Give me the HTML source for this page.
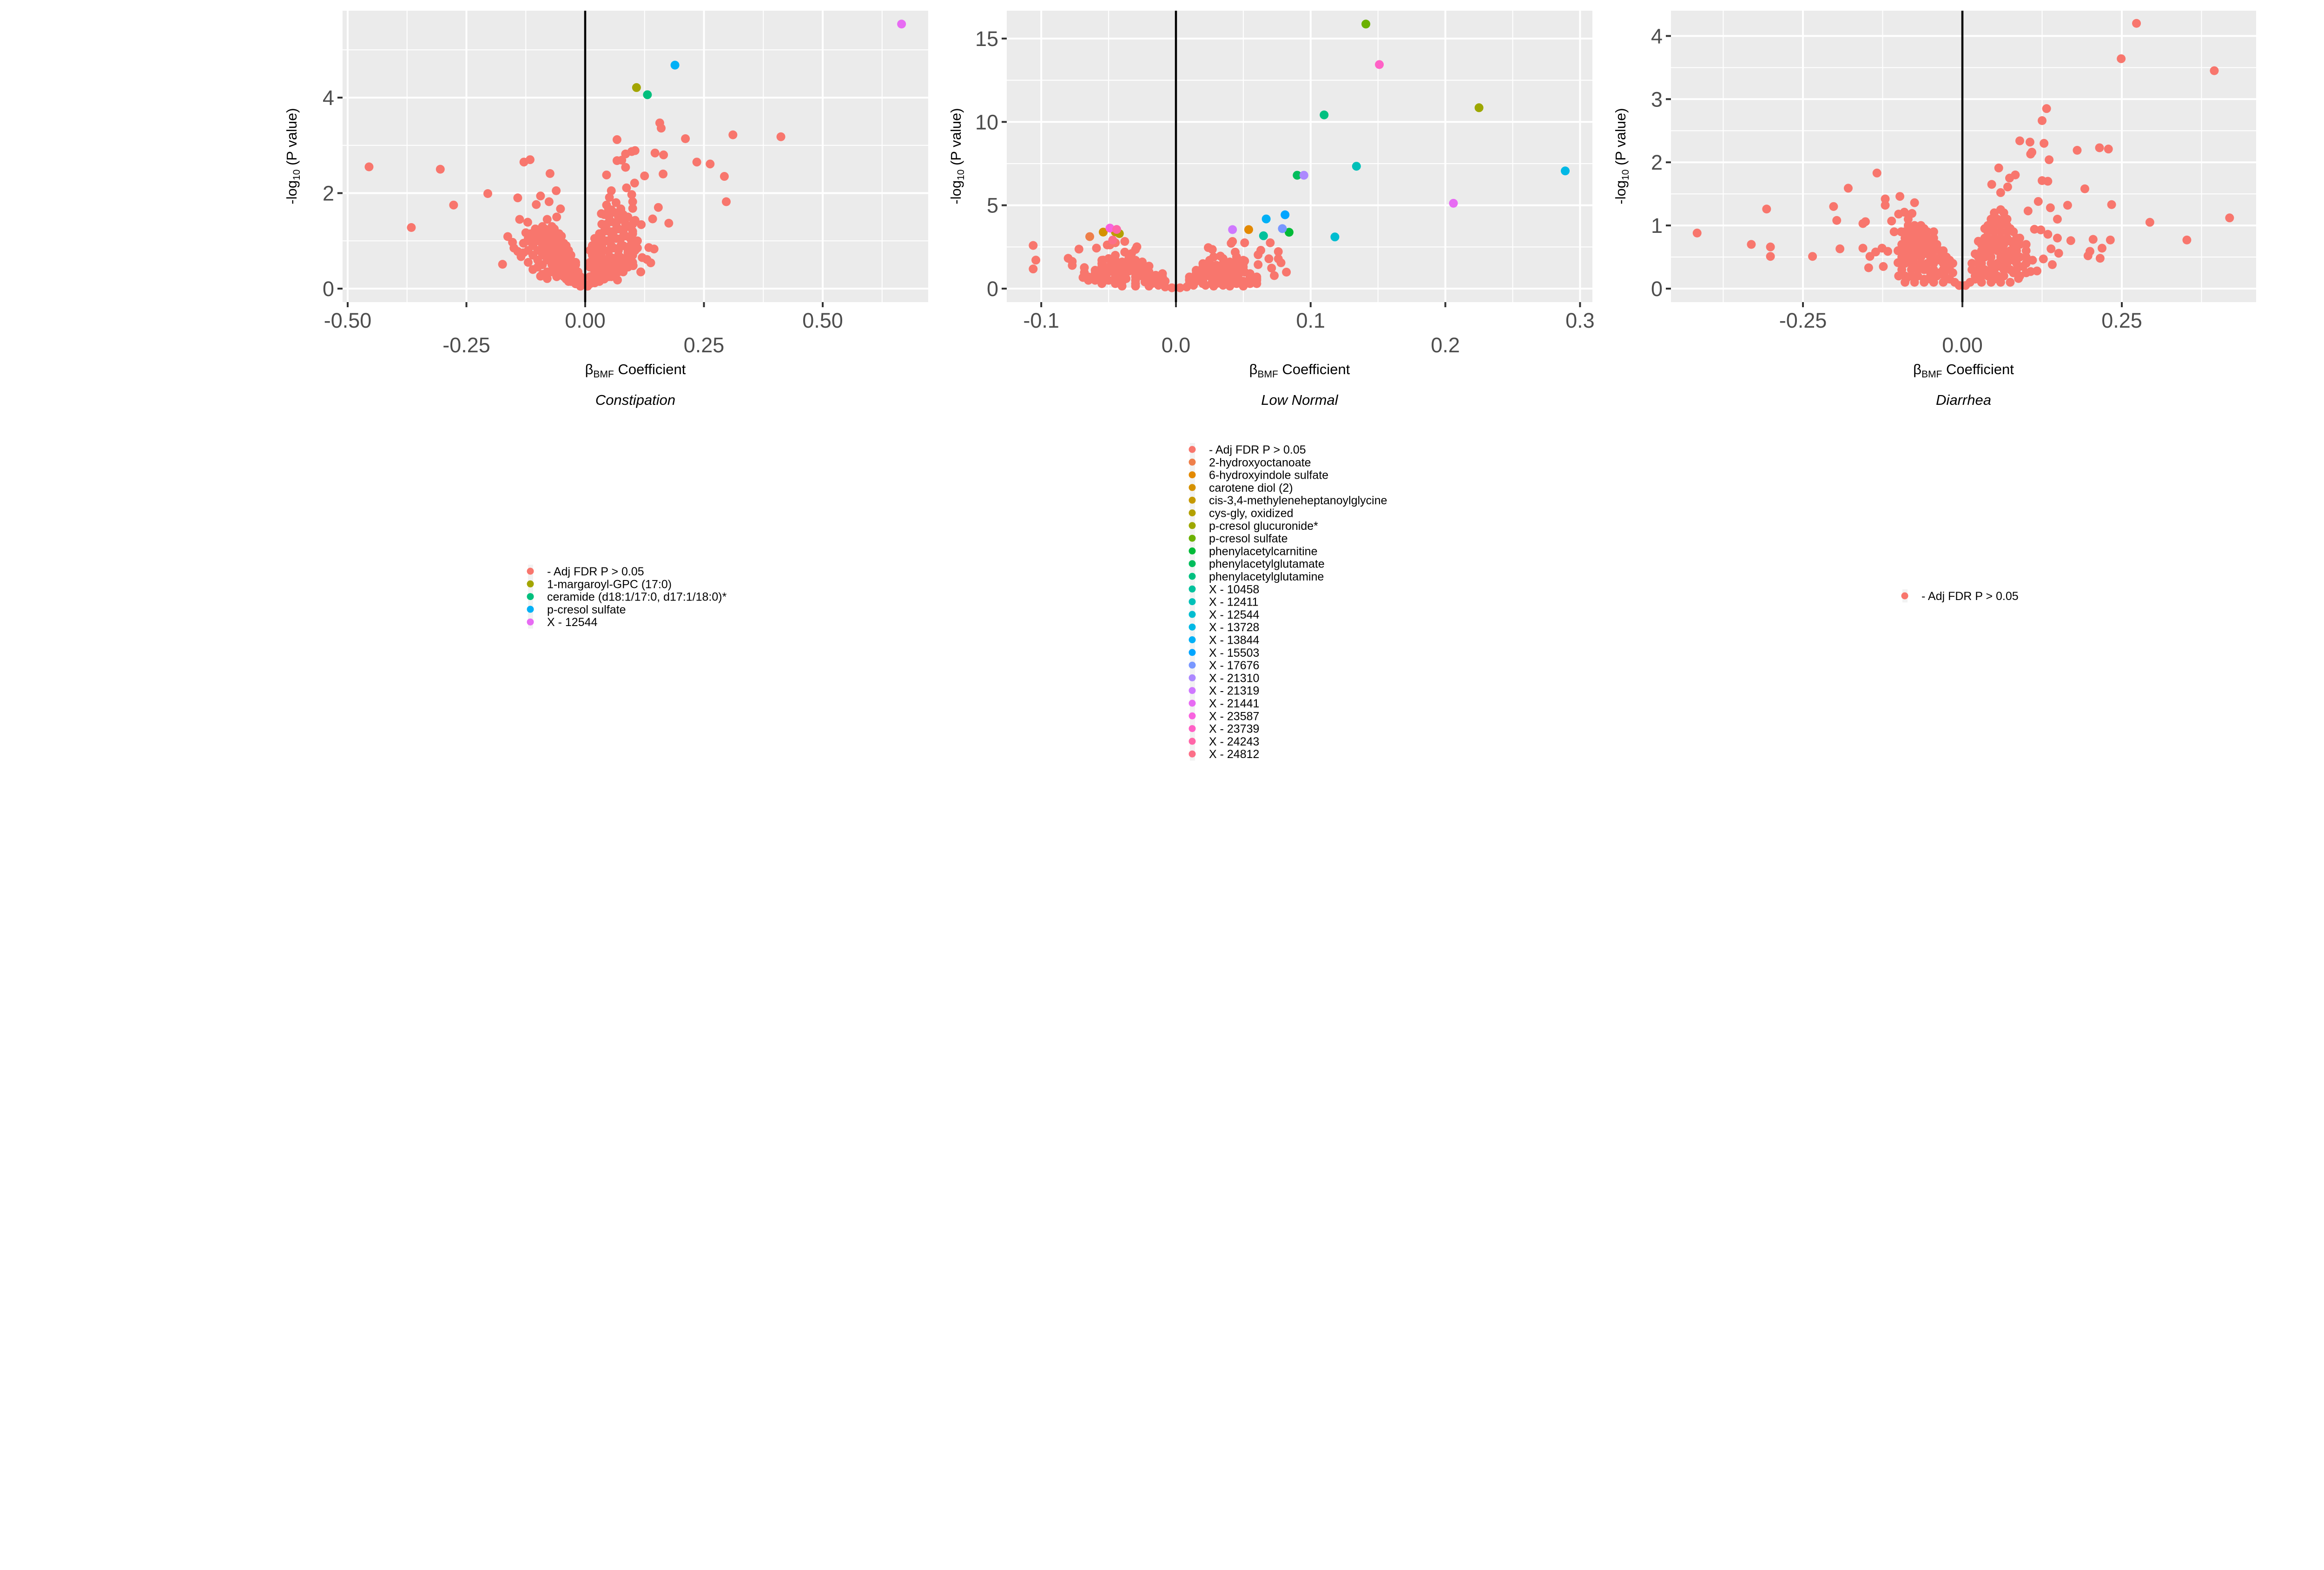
<!DOCTYPE html>
<html><head><meta charset="utf-8"><style>
html,body{margin:0;padding:0;background:#fff;}
svg{display:block;font-family:"Liberation Sans",sans-serif;}
</style></head><body>
<svg id="fig" width="5468" height="3378" viewBox="0 0 5468 3378" xmlns="http://www.w3.org/2000/svg"></svg>
<script>
// ---------- Panel 1: Constipation ----------
const p1Ticks=[-0.5,-0.25,0,0.25,0.5];
const p1TickLabels=["-0.50","-0.25","0.00","0.25","0.50"];
const p1YTicks=[0,2,4];
const p1Salmon=[[-0.455,2.55],[-0.305,2.50],[-0.366,1.28],[-0.277,1.75],[-0.205,1.99],[-0.129,2.65],[-0.116,2.70],[-0.074,2.41],[-0.061,2.05],[-0.142,1.90],[-0.094,1.94],[-0.103,1.76],[-0.076,1.82],[-0.052,1.67],[-0.138,1.45],[-0.121,1.39],[-0.163,1.09],[-0.153,0.97],[-0.125,1.17],[-0.174,0.51],[-0.142,0.78],[-0.135,0.67],[-0.094,0.26],[-0.080,0.21],
[0.157,3.47],[0.160,3.36],[0.067,3.12],[0.211,3.14],[0.311,3.22],[0.412,3.18],[0.147,2.84],[0.165,2.80],[0.105,2.89],[0.098,2.87],[0.085,2.82],[0.067,2.68],[0.077,2.69],[0.085,2.54],[0.235,2.65],[0.263,2.61],[0.293,2.35],[0.297,1.82],[0.045,2.38],[0.125,2.36],[0.164,2.40],[0.104,2.21],[0.087,2.11],[0.055,2.05],[0.051,1.91],[0.098,1.97],[0.100,1.82],[0.049,1.67],[0.075,1.67],[0.100,1.68],[0.154,1.70],[0.034,1.57],[0.142,1.46],[0.176,1.37],[0.105,1.43],[0.118,1.34],[0.134,0.86],[0.145,0.83],[0.130,0.61],[0.138,0.54],[0.117,0.35],[0.101,0.48],[0.068,0.18],
[-0.01,0.05],[-0.02,0.1],[-0.03,0.15],[-0.04,0.2],[-0.015,0.2],[-0.05,0.3],[-0.03,0.3],[-0.06,0.4],[-0.04,0.4],[-0.02,0.35],[-0.07,0.5],[-0.05,0.5],[-0.03,0.45],[-0.08,0.6],[-0.06,0.6],[-0.04,0.55],[-0.09,0.7],[-0.07,0.7],[-0.05,0.7],[-0.1,0.8],[-0.08,0.8],[-0.06,0.8],[-0.11,0.9],[-0.09,0.9],[-0.07,0.9],[-0.05,0.85],[-0.12,1.0],[-0.1,1.0],[-0.08,1.0],[-0.06,1.0],[-0.11,1.1],[-0.09,1.1],[-0.07,1.1],[-0.1,1.2],[-0.08,1.2],[-0.09,1.3],[-0.07,1.3],[-0.08,1.45],[-0.06,1.5],[-0.13,0.75],[-0.12,0.55],[-0.1,0.45],[-0.08,0.35],[-0.06,0.25],[-0.09,0.3],[-0.11,0.4],[-0.04,0.9],[-0.03,0.7],[-0.02,0.55],[-0.05,1.1],[-0.15,0.85],
[0.005,0.05],[0.01,0.1],[0.02,0.12],[0.03,0.15],[0.04,0.2],[0.05,0.25],[0.06,0.3],[0.07,0.35],[0.01,0.25],[0.02,0.35],[0.03,0.4],[0.05,0.45],[0.07,0.5],[0.09,0.55],[0.015,0.5],[0.03,0.6],[0.05,0.65],[0.07,0.7],[0.09,0.75],[0.02,0.75],[0.04,0.8],[0.06,0.85],[0.08,0.9],[0.1,0.95],[0.025,0.95],[0.045,1.0],[0.065,1.05],[0.085,1.1],[0.1,1.15],[0.03,1.15],[0.05,1.2],[0.07,1.25],[0.09,1.3],[0.035,1.35],[0.055,1.4],[0.075,1.45],[0.04,1.55],[0.06,1.6],[0.08,1.55],[0.045,1.75],[0.065,1.8],[0.04,0.6],[0.06,0.55],[0.08,0.6],[0.1,0.7],[0.11,0.85],[0.11,1.0],[0.035,0.3],[0.015,0.7],[0.12,0.65],[0.09,0.45]];
const p1FillRows=[[0.15,[-0.035,-0.025,-0.005,0.015,0.025]],[0.25,[-0.045,-0.025,-0.01,0.015,0.025,0.035,0.055]],[0.35,[-0.07,-0.05,-0.035,-0.015,0.025,0.045,0.065,0.08]],[0.45,[0.01,0.02,0.04,0.06,0.08]],[0.5,[-0.09,-0.06,-0.04,-0.02]],[0.55,[0.01,0.025,0.045,0.065,0.085,0.1]],[0.6,[-0.1,-0.07,-0.05,-0.03]],[0.65,[0.02,0.035,0.055,0.075,0.095]],[0.7,[-0.11,-0.08,-0.06,-0.04]],[0.8,[-0.12,-0.09,-0.07,-0.05,-0.035,0.01,0.03,0.05,0.07,0.09,0.105]],[0.9,[0.015,0.035,0.055,0.075,0.095]],[0.95,[-0.13,-0.11,-0.085,-0.065,-0.045]],[1.05,[-0.12,-0.1,-0.08,-0.06,0.02,0.035,0.055,0.075,0.095]],[1.15,[-0.115,-0.095,-0.075,-0.055]],[1.2,[0.04,0.06,0.08,0.1]],[1.25,[-0.105,-0.085,-0.065]],[1.35,[0.045,0.065,0.085,0.1]],[1.5,[0.05,0.07,0.09]],[1.65,[0.055,0.075]]];
const p1Names=["1-margaroyl-GPC (17:0)","ceramide (d18:1/17:0, d17:1/18:0)*","p-cresol sulfate","X - 12544"];
const p1Colors=["#A3A500","#00BF7D","#00B0F6","#E76BF3"];
const p1SigX=[0.108,0.131,0.189,0.666];
const p1SigY=[4.21,4.06,4.68,5.54];

// ---------- Panel 2: Low Normal ----------
const p2Ticks=[-0.1,0,0.1,0.2,0.3];
const p2TickLabels=["-0.1","0.0","0.1","0.2","0.3"];
const p2YTicks=[0,5,10,15];
const p2Salmon=[[-0.106,2.59],[-0.104,1.71],[-0.106,1.18],[-0.080,1.82],[-0.077,1.63],[-0.077,1.39],[-0.072,2.37],[-0.068,1.26],[-0.068,0.96],[-0.069,0.67],[-0.059,2.43],[-0.055,0.83],[-0.054,0.43],[-0.054,1.71],[-0.051,2.62],[-0.049,2.62],[-0.045,2.75],[-0.038,2.83],[-0.029,2.51],[-0.030,2.35],[-0.038,2.19],
[0.024,2.46],[0.027,2.35],[0.042,2.83],[0.041,2.72],[0.051,2.75],[0.070,2.75],[0.063,2.30],[0.061,2.03],[0.076,2.22],[0.069,1.79],[0.076,1.79],[0.078,1.55],[0.061,1.44],[0.071,1.23],[0.082,0.99],[0.073,0.78],[0.060,0.59],[0.045,0.35],[0.051,0.99],[0.051,1.66],[0.044,2.19],[0.033,1.95],[0.038,0.43],
[-0.003,0.05],[-0.008,0.1],[-0.013,0.2],[-0.018,0.3],[-0.023,0.4],[-0.03,0.5],[-0.037,0.6],[-0.045,0.7],[-0.052,0.8],[-0.01,0.3],[-0.015,0.45],[-0.02,0.6],[-0.025,0.75],[-0.03,0.9],[-0.035,1.05],[-0.04,1.2],[-0.045,1.35],[-0.05,1.0],[-0.055,1.2],[-0.048,1.5],[-0.04,1.6],[-0.035,1.8],[-0.03,1.4],[-0.025,1.2],[-0.02,1.0],[-0.015,0.8],[-0.01,0.6],[-0.008,0.45],[-0.03,0.3],[-0.04,0.4],[-0.05,0.5],[-0.057,0.6],[-0.06,0.9],[-0.05,1.8],[-0.045,2.0],[-0.033,2.1],[-0.025,1.6],[-0.02,1.35],
[0.003,0.05],[0.008,0.1],[0.013,0.2],[0.02,0.3],[0.027,0.4],[0.034,0.5],[0.04,0.6],[0.046,0.7],[0.01,0.3],[0.015,0.45],[0.02,0.6],[0.025,0.75],[0.03,0.9],[0.035,1.05],[0.04,1.2],[0.045,1.35],[0.05,1.0],[0.055,0.8],[0.05,1.5],[0.04,1.6],[0.035,1.8],[0.03,1.4],[0.025,1.2],[0.02,1.0],[0.015,0.8],[0.01,0.55],[0.03,0.3],[0.04,0.35],[0.05,0.45],[0.028,1.9],[0.045,1.9],[0.02,1.5],[0.022,0.2],[0.035,0.2]];
const p2FillRows=[[0.15,[-0.02,-0.03,-0.04,0.028,0.04,0.05]],[0.3,[-0.045,-0.055,0.045,0.055,0.06]],[0.5,[-0.01,-0.02,-0.045,-0.06,-0.065,0.01,0.02,0.045,0.06]],[0.7,[-0.01,-0.015,-0.03,-0.04,-0.055,-0.065,0.01,0.02,0.03,0.035,0.055,0.06]],[0.9,[-0.01,-0.02,-0.04,-0.045,-0.055,0.015,0.02,0.04,0.045,0.055]],[1.1,[-0.025,-0.03,-0.045,-0.05,-0.06,0.015,0.025,0.03,0.045,0.05]],[1.3,[-0.03,-0.035,-0.05,-0.055,0.02,0.035,0.04,0.05]],[1.5,[-0.035,-0.04,-0.055,0.025,0.035,0.045]],[1.7,[-0.03,-0.045,-0.055,0.025,0.045,0.05]]];
const p2Names=["2-hydroxyoctanoate","6-hydroxyindole sulfate","carotene diol (2)","cis-3,4-methyleneheptanoylglycine","cys-gly, oxidized","p-cresol glucuronide*","p-cresol sulfate","phenylacetylcarnitine","phenylacetylglutamate","phenylacetylglutamine","X - 10458","X - 12411","X - 12544","X - 13728","X - 13844","X - 15503","X - 17676","X - 21310","X - 21319","X - 21441","X - 23587","X - 23739","X - 24243","X - 24812"];
const p2Colors=["#EE7F4A","#E38900","#D59100","#C59900","#B3A000","#9DA700","#6BB100","#00BA38","#00BD5C","#00C080","#00C19C","#00C0B8","#00BDD0","#00B8E5","#00B0F6","#00A5FF","#7997FF","#AC88FF","#CF78FF","#E76BF3","#F863DF","#FF61C6","#FF66A8","#FC6F88"];
const p2SigX=[-0.064,0.054,-0.054,-0.045,-0.042,0.225,0.141,0.084,0.090,0.110,0.065,0.134,0.118,0.289,0.067,0.081,0.079,0.095,0.042,0.206,-0.049,0.151,-0.044,-0.047];
const p2SigY=[3.12,3.54,3.39,3.40,3.30,10.85,15.87,3.38,6.80,10.42,3.17,7.34,3.10,7.06,4.18,4.43,3.60,6.80,3.54,5.12,3.63,13.44,3.55,2.91];

// ---------- Panel 3: Diarrhea ----------
const p3Ticks=[-0.25,0,0.25];
const p3TickLabels=["-0.25","0.00","0.25"];
const p3YTicks=[0,1,2,3,4];
const p3Salmon=[[0.273,4.20],[0.249,3.64],[0.395,3.45],[0.132,2.85],[0.125,2.66],[0.090,2.34],[0.106,2.32],[0.128,2.30],[0.180,2.19],[0.215,2.23],[0.229,2.21],[0.109,2.16],[0.107,2.13],[0.136,2.04],[0.057,1.91],[0.083,1.80],[0.074,1.75],[0.125,1.71],[0.134,1.70],[0.192,1.58],[0.046,1.65],[0.071,1.61],[0.060,1.52],[0.165,1.32],[0.234,1.33],[0.119,1.38],[0.138,1.28],[0.103,1.23],[0.149,1.10],[0.294,1.05],[0.419,1.12],[0.352,0.77],[0.170,0.76],[0.205,0.78],[0.232,0.77],[0.219,0.64],[0.200,0.59],[0.197,0.52],[0.216,0.48],[0.151,0.56],[0.141,0.38],[0.139,0.63],[0.113,0.94],[0.123,0.93],[0.134,0.86],[0.149,0.80],[0.127,0.47],[0.107,0.27],[0.117,0.28],[0.088,0.16],
[-0.416,0.88],[-0.331,0.70],[-0.307,1.26],[-0.301,0.66],[-0.301,0.51],[-0.235,0.51],[-0.202,1.30],[-0.197,1.08],[-0.192,0.63],[-0.179,1.59],[-0.156,1.03],[-0.152,1.06],[-0.156,0.64],[-0.134,1.83],[-0.145,0.51],[-0.147,0.33],[-0.124,0.35],[-0.136,0.58],[-0.126,0.64],[-0.117,0.59],[-0.121,1.42],[-0.121,1.32],[-0.098,1.46],[-0.075,1.36],[-0.111,1.07],[-0.100,1.18],[-0.091,1.21],[-0.079,1.19],[-0.107,0.90],[-0.096,0.90],[-0.101,0.60],[-0.101,0.41],[-0.088,0.16],
[-0.005,0.05],[-0.012,0.1],[-0.02,0.15],[-0.028,0.2],[-0.036,0.25],[-0.045,0.3],[-0.055,0.3],[-0.065,0.35],[-0.075,0.4],[-0.015,0.25],[-0.025,0.35],[-0.035,0.45],[-0.045,0.5],[-0.055,0.55],[-0.065,0.6],[-0.075,0.65],[-0.085,0.7],[-0.03,0.6],[-0.04,0.7],[-0.05,0.75],[-0.06,0.8],[-0.07,0.85],[-0.08,0.9],[-0.09,0.8],[-0.06,0.95],[-0.075,1.0],[-0.085,0.5],[-0.09,0.4],[-0.08,0.2],[-0.07,0.2],[-0.06,0.15],[-0.05,0.15],[-0.02,0.45],[-0.045,0.9],[-0.095,0.6],[-0.085,1.1],
[0.005,0.05],[0.012,0.1],[0.02,0.15],[0.03,0.2],[0.04,0.25],[0.05,0.3],[0.06,0.35],[0.07,0.4],[0.08,0.45],[0.09,0.5],[0.015,0.3],[0.025,0.4],[0.035,0.5],[0.045,0.6],[0.055,0.65],[0.065,0.7],[0.075,0.75],[0.085,0.8],[0.02,0.55],[0.03,0.7],[0.04,0.8],[0.05,0.9],[0.06,1.0],[0.07,1.1],[0.05,1.15],[0.06,1.25],[0.04,1.0],[0.1,0.6],[0.095,0.35],[0.08,0.25],[0.065,0.2],[0.05,0.15],[0.11,0.45],[0.1,0.25],[0.025,0.75],[0.035,0.95],[0.075,0.95],[0.09,0.7]];
const p3FillRows=[[0.1,[-0.03,-0.045,-0.06,-0.075,-0.09,0.03,0.045,0.06,0.075]],[0.2,[-0.04,-0.05,-0.09,-0.1,0.02,0.04,0.05,0.055,0.09]],[0.3,[-0.02,-0.03,-0.06,-0.07,-0.08,-0.095,0.025,0.035,0.045,0.065,0.075,0.085]],[0.4,[-0.015,-0.03,-0.045,-0.055,-0.065,-0.08,0.015,0.03,0.045,0.055,0.065,0.085,0.1]],[0.5,[-0.025,-0.035,-0.05,-0.065,-0.075,-0.095,0.025,0.045,0.06,0.07,0.08,0.1]],[0.6,[-0.035,-0.045,-0.055,-0.07,-0.08,-0.09,0.03,0.04,0.055,0.065,0.075,0.085]],[0.7,[-0.05,-0.06,-0.07,-0.08,-0.095,0.035,0.045,0.055,0.08,0.1]],[0.8,[-0.045,-0.055,-0.065,-0.075,-0.085,0.035,0.05,0.06,0.07,0.09]],[0.9,[-0.055,-0.065,-0.075,-0.09,0.04,0.06,0.07,0.08]],[1.0,[-0.065,-0.085,0.045,0.05,0.07]],[1.1,[0.045,0.055,0.065]],[1.2,[0.05,0.065]]];

const SALMON="#F8766D";
const NS="http://www.w3.org/2000/svg";
const svg=document.getElementById('fig');
function mk(tag,attrs,parent,text){const e=document.createElementNS(NS,tag);for(const k in attrs)e.setAttribute(k,attrs[k]);if(text!==undefined)e.textContent=text;(parent||svg).appendChild(e);return e;}
function rowsToPoints(rows){const out=[];rows.forEach(r=>r[1].forEach(x=>out.push([x,r[0]])));return out;}

function panel(cfg){
  const g=mk('g',{});
  
  
  const sx=v=>cfg.x0+v*cfg.kx, sy=v=>621-v*cfg.ky;
  const bg=mk('rect',{x:cfg.L,y:23,width:cfg.R-cfg.L,height:627,fill:'#EBEBEB'},g);
  
  
  cfg.minorX.forEach(v=>{const l=mk('line',{x1:sx(v),x2:sx(v),y1:23,y2:650,stroke:'#fff','stroke-width':2},g);});
  cfg.minorY.forEach(v=>{const l=mk('line',{x1:cfg.L,x2:cfg.R,y1:sy(v),y2:sy(v),stroke:'#fff','stroke-width':2},g);});
  cfg.ticks.forEach((v,i)=>{
    const l=mk('line',{x1:sx(v),x2:sx(v),y1:23,y2:650,stroke:'#fff','stroke-width':4},g);
    
    const t=mk('line',{x1:sx(v),x2:sx(v),y1:650,y2:661,stroke:'#333','stroke-width':4},g);
    
    const row=cfg.rowOf(i);
    const tx=mk('text',{x:sx(v),y:row?758:705,'text-anchor':'middle','font-size':45,fill:'#4D4D4D'},g,cfg.tickLabels[i]);
    
  });
  cfg.yticks.forEach(v=>{
    const l=mk('line',{x1:cfg.L,x2:cfg.R,y1:sy(v),y2:sy(v),stroke:'#fff','stroke-width':4},g);
    
    const t=mk('line',{x1:cfg.L-11,x2:cfg.L,y1:sy(v),y2:sy(v),stroke:'#333','stroke-width':4},g);
    
    const tx=mk('text',{x:cfg.L-18,y:sy(v)+16,'text-anchor':'end','font-size':45,fill:'#4D4D4D'},g,String(v));
    
  });
  cfg.salmon.concat(rowsToPoints(cfg.fill)).forEach(p=>{const c=mk('circle',{cx:sx(p[0]),cy:sy(p[1]),r:9.5,fill:SALMON},g);});
  const z=mk('line',{x1:sx(0),x2:sx(0),y1:23,y2:650,stroke:'#000','stroke-width':4.5},g);
  
  (cfg.sigX||[]).forEach((v,i)=>{const c=mk('circle',{cx:sx(v),cy:sy(cfg.sigY[i]),r:9.5,fill:cfg.colors[i]},g);});
  const cx=(cfg.L+cfg.R)/2;
  const xt=mk('text',{x:cx,y:805,'text-anchor':'middle','font-size':31,fill:'#000'},g);
  
  mk('tspan',{},xt,'β');mk('tspan',{'font-size':21,dy:7},xt,'BMF');mk('tspan',{dy:-7},xt,'  Coefficient');
  const st=mk('text',{x:cx,y:871,'text-anchor':'middle','font-size':31,'font-style':'italic',fill:'#000'},g,cfg.title);
  
  const yt=mk('text',{transform:`translate(${cfg.yLabX+10},336) rotate(-90)`,'text-anchor':'middle','font-size':31,fill:'#000'},g);
  
  mk('tspan',{},yt,'-log');mk('tspan',{'font-size':21,dy:7},yt,'10');mk('tspan',{dy:-7},yt,' (P value)');
}
function legend(x,y,names,colors,nm){
  const g=mk('g',{});
  
  const n=names.length;
  mk('rect',{x:x-5,y:y-14,width:11,height:n*27.3+1,fill:'#F2F2F2'},g);
  names.forEach((t,i)=>{
    const e=mk('g',{},g);
    
    mk('circle',{cx:x,cy:y+i*27.3,r:7.5,fill:colors[i]},e);
    mk('text',{x:x+36,y:y+i*27.3+9,'font-size':25,fill:'#000'},e,t);
  });
}
panel({name:'constipation',L:737,R:1997,x0:1259,kx:1022,ky:102.75,ticks:p1Ticks,tickLabels:p1TickLabels,minorX:[-0.375,-0.125,0.125,0.375,0.625],minorY:[1,3,5],yticks:p1YTicks,salmon:p1Salmon,fill:p1FillRows,sigX:p1SigX,sigY:p1SigY,colors:p1Colors,rowOf:i=>i%2,title:'Constipation',yLabX:628});
panel({name:'low-normal',L:2166,R:3426,x0:2530,kx:2898,ky:35.87,ticks:p2Ticks,tickLabels:p2TickLabels,minorX:[-0.05,0.05,0.15,0.25],minorY:[2.5,7.5,12.5],yticks:p2YTicks,salmon:p2Salmon,fill:p2FillRows,sigX:p2SigX,sigY:p2SigY,colors:p2Colors,rowOf:i=>i%2,title:'Low Normal',yLabX:2057});
panel({name:'diarrhea',L:3595,R:4854,x0:4222,kx:1372,ky:135.9,ticks:p3Ticks,tickLabels:p3TickLabels,minorX:[-0.375,-0.125,0.125,0.375],minorY:[0.5,1.5,2.5,3.5],yticks:p3YTicks,salmon:p3Salmon,fill:p3FillRows,rowOf:i=>i%2,title:'Diarrhea',yLabX:3487});
legend(1141,1229,["- Adj FDR P > 0.05"].concat(p1Names),[SALMON].concat(p1Colors),'constipation-legend');
legend(2565,967,["- Adj FDR P > 0.05"].concat(p2Names),[SALMON].concat(p2Colors),'low-normal-legend');
legend(4098,1282,["- Adj FDR P > 0.05"],[SALMON],'diarrhea-legend');
</script>
</body></html>
